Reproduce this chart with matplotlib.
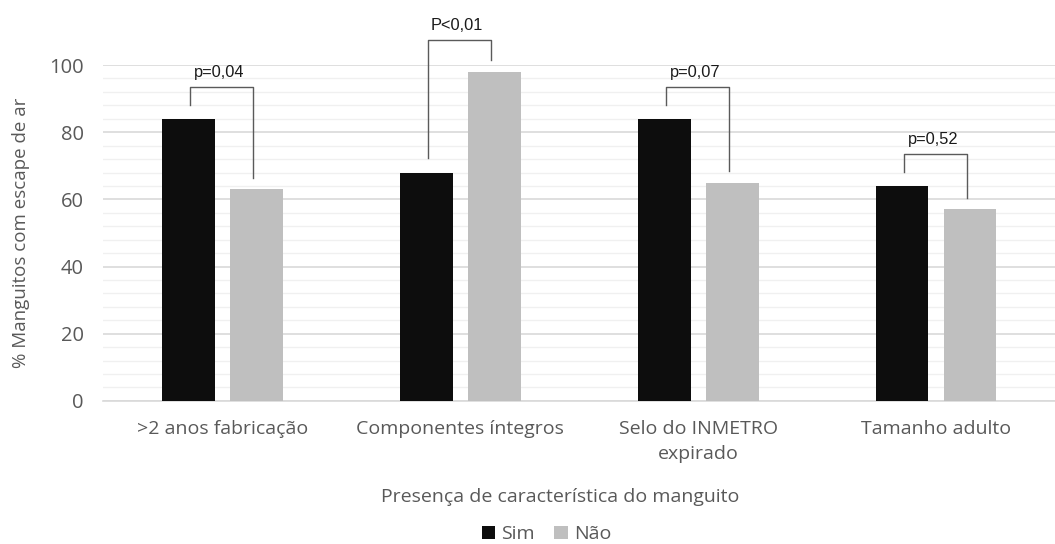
import matplotlib.pyplot as plt
import numpy as np
from matplotlib.ticker import MultipleLocator

categories = [">2 anos fabricação", "Componentes íntegros",
              "Selo do INMETRO\nexpirado", "Tamanho adulto"]
sim = [84, 68, 84, 64]
nao = [63, 98, 65, 57]
pvalues = ["p=0,04", "P<0,01", "p=0,07", "p=0,52"]

SIM_COLOR = "#0d0d0d"
NAO_COLOR = "#bfbfbf"
TEXT_COLOR = "#595959"
FONT = ["Open Sans", "DejaVu Sans"]

fig = plt.figure(figsize=(10.55, 5.44), dpi=100)
ax = fig.add_axes([0.098, 0.263, 0.902, 0.6175])

x = np.arange(len(categories))
width = 0.222
off = 0.143
ax.bar(x - off, sim, width, color=SIM_COLOR, label="Sim", zorder=3)
ax.bar(x + off, nao, width, color=NAO_COLOR, label="Não", zorder=3)

# significance brackets
for i, (s, n, p) in enumerate(zip(sim, nao, pvalues)):
    top = max(s, n) + 9.5
    xl, xr = i - 0.135, i + 0.128
    ax.plot([xl, xl, xr, xr], [s + 4.2, top, top, n + 3.5],
            color="#5a5a5a", lw=1.0, clip_on=False, zorder=4)
    ax.text((xl + xr) / 2 - 0.01, top + 2.0, p, ha="center", va="bottom",
            fontsize=11.8, family=["Liberation Sans"], color="#1a1a1a")

ax.set_xlim(-0.5, 3.5)
ax.set_ylim(0, 100)
ax.yaxis.set_major_locator(MultipleLocator(20))
ax.yaxis.set_minor_locator(MultipleLocator(4))
ax.grid(axis="y", which="major", color="#d9d9d9", lw=1.2, zorder=0)
ax.grid(axis="y", which="minor", color="#f0f0f0", lw=1.0, zorder=0)
for sp in ["top", "right", "left"]:
    ax.spines[sp].set_visible(False)
ax.spines["bottom"].set_color("#d9d9d9")
ax.spines["bottom"].set_linewidth(1.2)
ax.tick_params(axis="both", which="both", length=0, colors=TEXT_COLOR)
ax.tick_params(axis="y", pad=14)
ax.tick_params(axis="x", pad=14)

ax.set_xticks(x)
ax.set_xticklabels(categories, fontsize=14, family=FONT, color=TEXT_COLOR,
                   linespacing=1.5)
for lab in ax.get_yticklabels():
    lab.set_fontsize(14.5)
    lab.set_family(FONT)

ax.set_ylabel("% Manguitos com escape de ar", fontsize=13.5, family=FONT,
              color=TEXT_COLOR, labelpad=14)
fig.text(0.531, 0.086, "Presença de característica do manguito",
         ha="center", va="center", fontsize=14, family=FONT, color=TEXT_COLOR)

leg = fig.legend(loc="center", bbox_to_anchor=(0.518, 0.018), ncol=2,
                 frameon=False, handlelength=0.7, handleheight=0.7,
                 handletextpad=0.3, columnspacing=1.0,
                 prop={"family": FONT, "size": 14})
for t in leg.get_texts():
    t.set_color(TEXT_COLOR)

fig.savefig("out.png", dpi=100)
